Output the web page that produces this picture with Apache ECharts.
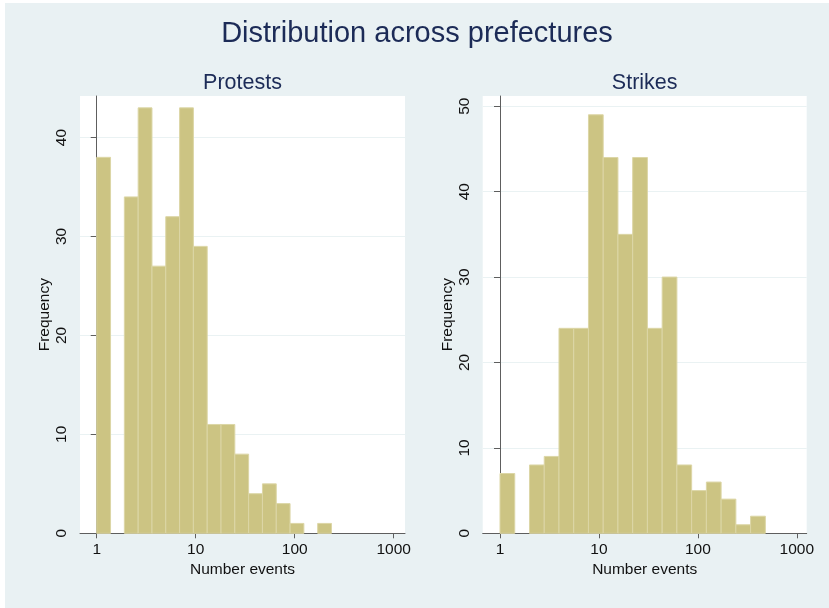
<!DOCTYPE html>
<html>
<head>
<meta charset="utf-8">
<script src="https://cdn.jsdelivr.net/npm/echarts@6/dist/echarts.min.js"></script>
<style>
html,body{margin:0;padding:0;background:#ffffff;}
#c{position:absolute;left:5px;top:3px;width:824px;height:605px;}
</style>
</head>
<body>
<div id="c"></div>
<script>
// Histogram data (bins in log10(number of events), starting at log10(1)=0)
var protestCounts = [38, 0, 34, 43, 27, 32, 43, 29, 11, 11, 8, 4, 5, 3, 1, 0, 1];
var protestBinWidth = 0.1395;
var strikeCounts = [7, 0, 8, 9, 24, 24, 49, 44, 35, 44, 24, 30, 8, 5, 6, 4, 1, 2];
var strikeBinWidth = 0.149;
var xTickValues = [0, 1, 2, 3];   // log10 of 1, 10, 100, 1000
var protestYTicks = [0, 10, 20, 30, 40];
var strikeYTicks = [0, 10, 20, 30, 40, 50];
var mainTitle = 'Distribution across prefectures';
var panelTitles = ['Protests', 'Strikes'];
var xName = 'Number events';
var yName = 'Frequency';

function binsToData(counts, width) {
  var out = [];
  for (var i = 0; i < counts.length; i++) {
    if (counts[i] > 0) out.push([i * width, (i + 1) * width, counts[i]]);
  }
  return out;
}

var FONT = 'Liberation Sans';
var TXT = '#111111';
var AX = '#5e5e5e';
var FS = 15.5;

function renderBar(params, api) {
  var p0 = api.coord([api.value(0), api.value(2)]);
  var p1 = api.coord([api.value(1), 0]);
  return {
    type: 'rect',
    shape: { x: p0[0], y: p0[1], width: p1[0] - p0[0], height: p1[1] - p0[1] },
    style: { fill: '#ccc483', stroke: '#dcd6a6', lineWidth: 1 }
  };
}

function xAxisCfg(idx, min, max) {
  return {
    type: 'value', gridIndex: idx, min: min, max: max,
    name: xName, nameLocation: 'middle', nameGap: 25,
    nameTextStyle: { fontFamily: FONT, fontSize: FS, color: TXT },
    axisLine: { show: true, lineStyle: { color: AX, width: 1 } },
    axisTick: { show: true, customValues: xTickValues, length: 5, lineStyle: { color: AX } },
    axisLabel: { customValues: xTickValues, fontFamily: FONT, fontSize: FS, color: TXT, margin: 8,
      formatter: function (v) { return String(Math.round(Math.pow(10, v))); } },
    splitLine: { show: false }
  };
}

function yAxisCfg(idx, max, ticks) {
  return {
    type: 'value', gridIndex: idx, min: 0, max: max,
    name: yName, nameLocation: 'middle', nameGap: 26, nameRotate: 90,
    nameTextStyle: { fontFamily: FONT, fontSize: FS, color: TXT },
    axisLine: { show: true, lineStyle: { color: AX, width: 1 } },
    axisTick: { show: true, customValues: ticks, length: 6, lineStyle: { color: AX } },
    axisLabel: { customValues: ticks, rotate: 90, fontFamily: FONT, fontSize: FS, color: TXT, margin: 10 },
    splitLine: { show: true, lineStyle: { color: '#eaf2f3', width: 1 } }
  };
}

var chart = echarts.init(document.getElementById('c'), null, { renderer: 'canvas' });
chart.setOption({
  backgroundColor: '#e9f1f3',
  animation: false,
  title: [
    { text: mainTitle, left: 'center', top: 11,
      textStyle: { fontFamily: FONT, fontSize: 29, fontWeight: 'normal', color: '#1c2b57' } },
    { text: panelTitles[0], left: 232.5, textAlign: 'center', top: 64,
      textStyle: { fontFamily: FONT, fontSize: 21.5, fontWeight: 'normal', color: '#1c2b57' } },
    { text: panelTitles[1], left: 634.7, textAlign: 'center', top: 64,
      textStyle: { fontFamily: FONT, fontSize: 21.5, fontWeight: 'normal', color: '#1c2b57' } }
  ],
  grid: [
    { left: 75, top: 93, width: 325, height: 437.3, show: true, backgroundColor: '#ffffff', borderWidth: 0 },
    { left: 477.7, top: 93, width: 324, height: 437.3, show: true, backgroundColor: '#ffffff', borderWidth: 0 }
  ],
  xAxis: [xAxisCfg(0, -0.169, 3.114), xAxisCfg(1, -0.175, 3.10)],
  yAxis: [yAxisCfg(0, 44.2, protestYTicks), yAxisCfg(1, 51.2, strikeYTicks)],
  series: [
    { type: 'custom', xAxisIndex: 0, yAxisIndex: 0, renderItem: renderBar,
      encode: { x: [0, 1], y: 2 }, data: binsToData(protestCounts, protestBinWidth) },
    { type: 'custom', xAxisIndex: 1, yAxisIndex: 1, renderItem: renderBar,
      encode: { x: [0, 1], y: 2 }, data: binsToData(strikeCounts, strikeBinWidth) }
  ]
});
</script>
</body>
</html>
